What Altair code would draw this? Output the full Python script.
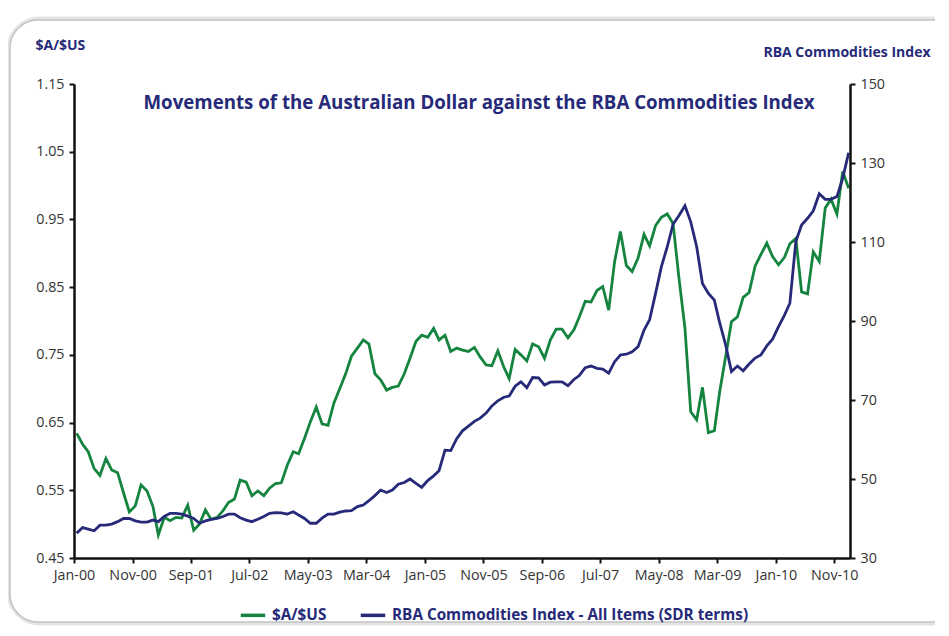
import altair as alt
import pandas as pd

# ---- data (monthly, Jan-2000 .. Jan-2011) ----
aud_usd = [
    0.634, 0.618, 0.607, 0.582, 0.572, 0.597, 0.580, 0.576, 0.546, 0.518,
    0.527, 0.558, 0.549, 0.526, 0.484, 0.510, 0.505, 0.510, 0.509, 0.528,
    0.491, 0.500, 0.521, 0.507, 0.510, 0.520, 0.532, 0.537, 0.565, 0.562,
    0.542, 0.549, 0.542, 0.553, 0.560, 0.561, 0.587, 0.607, 0.604, 0.627,
    0.651, 0.673, 0.648, 0.646, 0.679, 0.700, 0.722, 0.748, 0.760, 0.772,
    0.766, 0.722, 0.713, 0.698, 0.702, 0.704, 0.722, 0.745, 0.770, 0.779,
    0.776, 0.789, 0.772, 0.779, 0.755, 0.760, 0.757, 0.755, 0.761, 0.747,
    0.735, 0.734, 0.756, 0.732, 0.715, 0.758, 0.750, 0.741, 0.766, 0.762,
    0.745, 0.772, 0.788, 0.788, 0.775, 0.787, 0.806, 0.829, 0.828, 0.845,
    0.851, 0.816, 0.888, 0.932, 0.882, 0.873, 0.893, 0.928, 0.911, 0.941,
    0.953, 0.958, 0.944, 0.863, 0.789, 0.666, 0.654, 0.702, 0.635, 0.638,
    0.696, 0.748, 0.799, 0.806, 0.835, 0.842, 0.881, 0.898, 0.915, 0.895,
    0.883, 0.894, 0.914, 0.922, 0.843, 0.840, 0.902, 0.888, 0.967, 0.980,
    0.958, 1.021, 0.996,
]
rba_index = [
    36.3, 37.7, 37.3, 36.9, 38.3, 38.3, 38.6, 39.2, 40.0, 40.0,
    39.4, 39.1, 39.1, 39.6, 39.2, 40.5, 41.3, 41.3, 41.1, 40.6,
    40.0, 38.8, 39.4, 39.8, 40.0, 40.5, 41.1, 41.1, 40.2, 39.6,
    39.2, 39.8, 40.5, 41.3, 41.5, 41.4, 41.1, 41.7, 40.9, 40.0,
    38.8, 38.8, 40.1, 41.1, 41.1, 41.6, 41.9, 42.0, 43.0, 43.4,
    44.5, 45.8, 47.2, 46.6, 47.2, 48.7, 49.1, 50.0, 48.9, 47.9,
    49.6, 50.8, 52.1, 57.3, 57.2, 60.2, 62.2, 63.4, 64.6, 65.4,
    66.7, 68.5, 69.8, 70.7, 71.0, 73.5, 74.6, 73.1, 75.7, 75.6,
    73.8, 74.5, 74.6, 74.6, 73.6, 75.2, 76.2, 78.2, 78.6, 78.0,
    77.8, 76.8, 79.7, 81.4, 81.6, 82.2, 83.5, 87.7, 90.3, 97.0,
    103.7, 108.8, 114.5, 116.7, 119.2, 115.1, 108.8, 99.5, 97.0, 95.3,
    89.5, 83.9, 77.2, 78.6, 77.4, 79.1, 80.6, 81.4, 83.7, 85.4,
    88.6, 91.5, 94.5, 110.1, 114.3, 116.0, 117.9, 122.2, 120.8, 120.8,
    121.5, 126.1, 132.6,
]
months = (pd.date_range("2000-01-01", periods=len(aud_usd), freq="MS")
          + pd.Timedelta(days=14))

left_ticks = [0.45, 0.55, 0.65, 0.75, 0.85, 0.95, 1.05, 1.15]
right_ticks = [30, 50, 70, 90, 110, 130, 150]
tick_month_offsets = list(range(0, 131, 10))  # Jan-00, Nov-00, ... Nov-10


def to_ms(ts):
    return int(pd.Timestamp(ts).value // 10**6)


series_names = ["$A/$US", "RBA Commodities Index - All Items (SDR terms)"]

GREEN = "#14843f"
NAVY = "#262a78"
FONT = "Open Sans"

month_ms = [to_ms(m) for m in months]
df_aud = pd.DataFrame({"t": month_ms, "aud": aud_usd, "series": series_names[0]})
df_rba = pd.DataFrame({"t": month_ms, "rba": rba_index, "series": series_names[1]})

tick_ms = [to_ms(pd.Timestamp(year=2000 + k // 12, month=k % 12 + 1, day=1))
           for k in tick_month_offsets]
x_domain = [to_ms("2000-01-01"), to_ms("2011-01-22")]

axis_style = dict(labelFontSize=14.3, labelColor="#333333", labelFont=FONT,
                  domainColor="#111111", domainWidth=2.5, tickColor="#111111",
                  tickWidth=2, tickSize=5, grid=False, zindex=2)

x_enc = alt.X(
    "t:Q",
    scale=alt.Scale(domain=x_domain, nice=False, zero=False),
    axis=alt.Axis(values=tick_ms, labelExpr="utcFormat(datum.value, '%b-%y')",
                  title=None, labelPadding=5, labelFlush=False,
                  labelOverlap=False, **axis_style),
)

color_scale = alt.Scale(domain=series_names, range=[GREEN, NAVY])
legend = alt.Legend(
    title=None, orient="none", legendX=165, legendY=517, direction="horizontal",
    symbolType="stroke", symbolStrokeWidth=3.5, symbolSize=600,
    labelFont=FONT, labelFontSize=15.3, labelFontWeight="bold", labelColor=NAVY,
    columnPadding=26, labelOffset=5, labelLimit=0,
)
color_enc = alt.Color("series:N", scale=color_scale, legend=legend)

green = alt.Chart(df_aud).mark_line(strokeWidth=2.8).encode(
    x=x_enc,
    y=alt.Y("aud:Q",
            scale=alt.Scale(domain=[0.45, 1.15], nice=False, zero=False),
            axis=alt.Axis(orient="left", values=left_ticks, format=".2f",
                          title="$A/$US", titleAngle=0, titleX=-39, titleY=-39,
                          titleAlign="left", titleBaseline="middle",
                          titleFont=FONT, titleFontSize=14, titleFontWeight="bold",
                          titleColor=NAVY, labelPadding=5, **axis_style)),
    color=color_enc,
)

blue = alt.Chart(df_rba).mark_line(strokeWidth=2.8).encode(
    x=x_enc,
    y=alt.Y("rba:Q",
            scale=alt.Scale(domain=[30, 150], nice=False, zero=False),
            axis=alt.Axis(orient="right", values=right_ticks, format="d",
                          title="RBA Commodities Index", titleAngle=0, titleX=80,
                          titleY=-32, titleAlign="right", titleBaseline="middle",
                          titleFont=FONT, titleFontSize=14, titleFontWeight="bold",
                          titleColor=NAVY, labelPadding=5, **axis_style)),
    color=color_enc,
)

frame_df = pd.DataFrame({"k": [0]})
shadow = alt.Chart(frame_df).mark_rect(
    cornerRadius=30, fill="#ffffff", stroke="#e4e4e4", strokeWidth=7
).encode(x=alt.value(-64), x2=alt.value(905), y=alt.value(-64), y2=alt.value(538))
frame = alt.Chart(frame_df).mark_rect(
    cornerRadius=28, fill="#ffffff", stroke="#c4c4c4", strokeWidth=1.5
).encode(x=alt.value(-64), x2=alt.value(905), y=alt.value(-64), y2=alt.value(538))

chart = alt.layer(shadow, frame, green, blue).resolve_scale(y="independent").properties(
    width=776, height=474,
    autosize=alt.AutoSizeParams(type="none"),
    padding={"left": 66, "top": 76, "right": 85, "bottom": 68},
    title=alt.TitleParams(
        "Movements of the Australian Dollar against the RBA Commodities Index",
        anchor="middle", font=FONT, fontSize=18.7, fontWeight="bold", color=NAVY,
        dx=17, dy=109, baseline="middle",
    ),
).configure_view(strokeWidth=0).configure(background="white")

chart.save("out.html", embed_options={"renderer": "svg", "actions": False})
